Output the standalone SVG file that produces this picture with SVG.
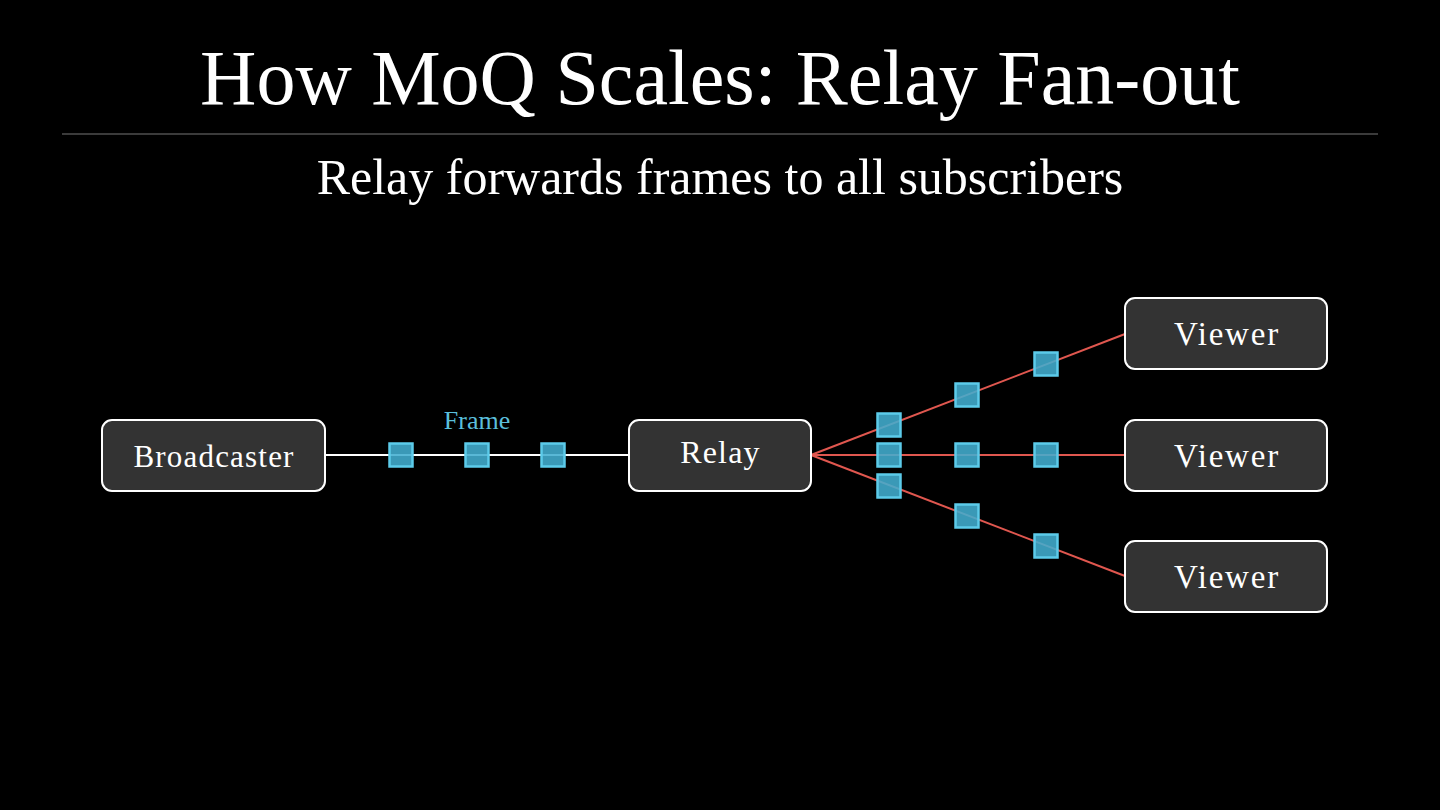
<svg xmlns="http://www.w3.org/2000/svg" width="1440" height="810" viewBox="0 0 1440 810">
<style>
.node rect{fill:#333333;stroke:#ffffff;stroke-width:2}
.lbl{font-family:"Liberation Serif","Times New Roman",serif;fill:#ffffff;text-anchor:middle}
.nl{letter-spacing:1.2px}
.frame{fill:#42aed0;fill-opacity:0.88;stroke:#5ccbea;stroke-width:2.5}
.red{stroke:#e0574f;stroke-width:2;fill:none}
</style>
<rect x="0" y="0" width="1440" height="810" fill="#000000"/>
<text class="lbl" x="720" y="104" font-size="78">How MoQ Scales: Relay Fan-out</text>
<line x1="62" y1="134" x2="1378" y2="134" stroke="#777777" stroke-width="1"/>
<text class="lbl" x="720" y="194" font-size="50">Relay forwards frames to all subscribers</text>
<g id="connectors">
<line x1="325" y1="455" x2="629" y2="455" stroke="#ffffff" stroke-width="2"/>
<line class="red" x1="811" y1="455" x2="1125" y2="334"/>
<line class="red" x1="811" y1="455" x2="1125" y2="455"/>
<line class="red" x1="811" y1="455" x2="1125" y2="576"/>
</g>
<g id="frames">
<rect class="frame" x="389.5" y="443.5" width="23" height="23"/>
<rect class="frame" x="465.5" y="443.5" width="23" height="23"/>
<rect class="frame" x="541.5" y="443.5" width="23" height="23"/>
<text x="477" y="429" font-family="Liberation Serif, serif" font-size="26" fill="#5bbfdc" text-anchor="middle">Frame</text>
<rect class="frame" x="877.5" y="413.5" width="23" height="23"/>
<rect class="frame" x="955.5" y="383.5" width="23" height="23"/>
<rect class="frame" x="1034.5" y="352.5" width="23" height="23"/>
<rect class="frame" x="877.5" y="443.5" width="23" height="23"/>
<rect class="frame" x="955.5" y="443.5" width="23" height="23"/>
<rect class="frame" x="1034.5" y="443.5" width="23" height="23"/>
<rect class="frame" x="877.5" y="474.5" width="23" height="23"/>
<rect class="frame" x="955.5" y="504.5" width="23" height="23"/>
<rect class="frame" x="1034.5" y="534.5" width="23" height="23"/>
</g>
<g id="broadcaster" class="node">
<rect x="102" y="420" width="223" height="71" rx="10"/>
<text class="lbl nl" x="214" y="467" font-size="31">Broadcaster</text>
</g>
<g id="relay" class="node">
<rect x="629" y="420" width="182" height="71" rx="10"/>
<text class="lbl nl" x="720.5" y="463" font-size="32">Relay</text>
</g>
<g id="viewer1" class="node">
<rect x="1125" y="298" width="202" height="71" rx="10"/>
<text class="lbl" x="1227" y="345" font-size="33" style="letter-spacing:1.8px">Viewer</text>
</g>
<g id="viewer2" class="node">
<rect x="1125" y="420" width="202" height="71" rx="10"/>
<text class="lbl" x="1227" y="467" font-size="33" style="letter-spacing:1.8px">Viewer</text>
</g>
<g id="viewer3" class="node">
<rect x="1125" y="541" width="202" height="71" rx="10"/>
<text class="lbl" x="1227" y="588" font-size="33" style="letter-spacing:1.8px">Viewer</text>
</g>
</svg>
